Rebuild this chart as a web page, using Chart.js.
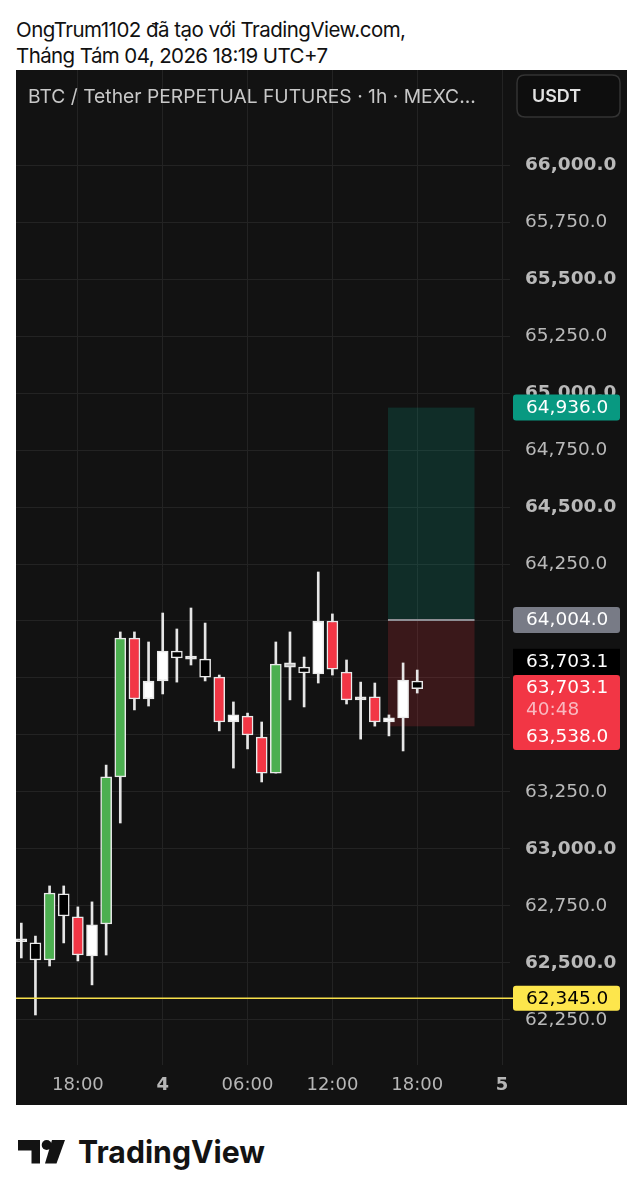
<!DOCTYPE html>
<html>
<head>
<meta charset="utf-8">
<script src="https://cdn.jsdelivr.net/npm/chart.js@4.4.1/dist/chart.umd.min.js"></script>
<style>
html,body{margin:0;padding:0;background:#fff;width:643px;height:1200px;overflow:hidden;}
#wrap{position:absolute;left:16px;top:70px;width:611px;height:1035px;background:#121212;}
#c{display:block;}
#page{position:absolute;left:0;top:0;}
</style>
</head>
<body>
<svg id="page" width="643" height="1200" xmlns="http://www.w3.org/2000/svg">
  <text x="16" y="36.5" font-family="Inter, 'Noto Sans', sans-serif" font-size="20.5" fill="#111" textLength="390" lengthAdjust="spacing">OngTrum1102 đã tạo với TradingView.com,</text>
  <text x="16" y="62.5" font-family="Inter, 'Noto Sans', sans-serif" font-size="20.5" fill="#111" textLength="312" lengthAdjust="spacing">Tháng Tám 04, 2026 18:19 UTC+7</text>
  <g fill="#131313">
    <polygon points="18,1140 40,1140 40,1163.5 31.5,1163.5 31.5,1150.5 18,1150.5"/>
    <circle cx="46.7" cy="1145" r="5"/>
    <polygon points="52,1140 65,1140 56.5,1163.5 45,1163.5"/>
  </g>
  <text x="78" y="1163" font-family="Inter, sans-serif" font-weight="700" font-size="31.5" fill="#131313" textLength="187" lengthAdjust="spacingAndGlyphs">TradingView</text>
</svg>
<div id="wrap"><canvas id="c" width="611" height="1035"></canvas></div>
<script>
// ---- DATA ----
const hours = ['03 14:00','03 15:00','03 16:00','03 17:00','03 18:00','03 19:00','03 20:00','03 21:00','03 22:00','03 23:00',
               '04 00:00','04 01:00','04 02:00','04 03:00','04 04:00','04 05:00','04 06:00','04 07:00','04 08:00','04 09:00',
               '04 10:00','04 11:00','04 12:00','04 13:00','04 14:00','04 15:00','04 16:00','04 17:00','04 18:00'];
const opens  = [62593,62588,62513,62803,62702,62531,62671,63316,63925,63658,63737,63868,63833,63833,63754,63557,63583,63491,63333,63816,63798,63768,64000,63776,63654,63667,63557,63575,63737];
const highs  = [62675,62618,62838,62838,62746,62768,63368,63952,63952,63908,64035,63965,64057,63991,63763,63645,63596,63557,63908,63952,63842,64215,64031,63829,63732,63728,63588,63816,63785];
const lows   = [62522,62272,62487,62588,62509,62404,62535,63114,63610,63627,63680,63732,63807,63737,63518,63355,63439,63294,63333,63654,63623,63728,63763,63636,63482,63539,63496,63430,63684];
const closes = [62593,62513,62807,62706,62535,62667,63316,63925,63658,63737,63868,63838,63833,63754,63557,63588,63500,63333,63811,63798,63772,64000,63789,63654,63667,63557,63575,63741,63703.1];
const bodyStyle = ['w','k','g','k','r','w','g','g','r','w','w','k','w','k','r','w','r','r','g','s','k','w','r','r','w','r','w','w','k'];

const priceTicks = [62250,62500,62750,63000,63250,63500,63750,64000,64250,64500,64750,65000,65250,65500,65750,66000];
const timeTickPos = [4,10,16,22,28,34];
const timeTickLabels = ['18:00','4','06:00','12:00','18:00','5'];
const timeTickBold = [false,true,false,false,false,true];

const xRange = [-0.375, 34.56];
const yRange = [62052.6, 66416.7];

const alertPrice = 62345;
const rrTarget = 64936, rrEntry = 64004, rrStop = 63538;
const rrSpan = [25.93, 32.05];
const lastPrice = 63703.1;
const countdown = '40:48';
const headerText = 'BTC / Tether PERPETUAL FUTURES · 1h · MEXC...';
const currencyText = 'USDT';

// ---- STYLE ----
const bodyColors = {g:'#4caf50', r:'#f23645', w:'#ffffff', k:'#000000', s:'#c4c4c4'};
const fmt = v => v.toLocaleString('en-US',{minimumFractionDigits:1, maximumFractionDigits:1});
const AX_FONT = 'DejaVu Sans';

const xIdx = hours.map((h,i)=>i);

function fitSize(ctx, text, weight, family, targetW, base){
  ctx.font = `${weight} ${base}px ${family}`;
  return base * targetW / ctx.measureText(text).width;
}
function rr(ctx,x,y,w,h,r){
  ctx.beginPath();
  ctx.moveTo(x+r,y);ctx.lineTo(x+w-r,y);ctx.quadraticCurveTo(x+w,y,x+w,y+r);
  ctx.lineTo(x+w,y+h-r);ctx.quadraticCurveTo(x+w,y+h,x+w-r,y+h);
  ctx.lineTo(x+r,y+h);ctx.quadraticCurveTo(x,y+h,x,y+h-r);
  ctx.lineTo(x,y+r);ctx.quadraticCurveTo(x,y,x+r,y);ctx.closePath();
}
function noPad(s){ s.paddingTop = 0; s.paddingBottom = 0; s.paddingLeft = 0; s.paddingRight = 0; }

const overlay = {
  id:'overlay',
  beforeDatasetsDraw(chart){
    const {ctx, scales:{x,y}} = chart;
    const x0 = x.getPixelForValue(rrSpan[0]), x1 = x.getPixelForValue(rrSpan[1]);
    const yT = y.getPixelForValue(rrTarget), yE = y.getPixelForValue(rrEntry), yS = y.getPixelForValue(rrStop);
    ctx.save();
    ctx.fillStyle = 'rgba(8,153,129,0.2)';
    ctx.fillRect(x0, yT, x1-x0, yE-yT);
    ctx.fillStyle = 'rgba(242,54,69,0.18)';
    ctx.fillRect(x0, yE, x1-x0, yS-yE);
    ctx.strokeStyle = '#8e8e94'; ctx.lineWidth = 2;
    ctx.beginPath(); ctx.moveTo(x0, yE); ctx.lineTo(x1, yE); ctx.stroke();
    ctx.restore();
  },
  afterDatasetsDraw(chart){
    const {ctx, chartArea, scales:{y}} = chart;
    const ya = y.getPixelForValue(alertPrice);
    ctx.save();
    ctx.strokeStyle = '#f7e04b'; ctx.lineWidth = 1.5;
    ctx.beginPath(); ctx.moveTo(chartArea.left, ya); ctx.lineTo(chartArea.right+4, ya); ctx.stroke();
    ctx.restore();
  },
  afterDraw(chart){
    const {ctx, chartArea, scales:{y}} = chart;
    ctx.save();
    // header
    const hs = fitSize(ctx, headerText, 400, 'Inter', 448, 18);
    ctx.font = `400 ${hs}px Inter`;
    ctx.fillStyle = '#c8c8c8'; ctx.textBaseline = 'middle'; ctx.textAlign = 'left';
    ctx.fillText(headerText, 12, 27);
    // USDT box
    rr(ctx, 501, 5, 103, 42, 8);
    ctx.fillStyle = '#0e0e0e'; ctx.fill();
    ctx.strokeStyle = '#333'; ctx.lineWidth = 1.5; ctx.stroke();
    const us = fitSize(ctx, currencyText, 600, 'Inter', 49, 18);
    ctx.font = `600 ${us}px Inter`; ctx.fillStyle = '#e2e2e2';
    ctx.fillText(currencyText, 516, 27);
    // price tags
    const tx = chartArea.right + 3, tw = 107, textX = chartArea.right + 16;
    ctx.font = `18.5px ${AX_FONT}`;
    const tag = (yc, h, bg, fg, text) => {
      rr(ctx, tx, yc - h/2, tw, h, 3); ctx.fillStyle = bg; ctx.fill();
      if (text){ ctx.fillStyle = fg; ctx.fillText(text, textX, yc+0.5); }
    };
    tag(y.getPixelForValue(rrTarget), 26, '#089981', '#ffffff', fmt(rrTarget));
    tag(y.getPixelForValue(rrEntry), 26, '#787b86', '#ffffff', fmt(rrEntry));
    const yS = y.getPixelForValue(rrStop);
    // black last price tag
    ctx.fillStyle = '#000'; ctx.fillRect(tx, yS - 77.5, tw, 26.5);
    ctx.fillStyle = '#ffffff'; ctx.fillText(fmt(lastPrice), textX, yS - 64);
    // red stacked tag: countdown + stop
    rr(ctx, tx, yS - 51.3, tw, 75, 3); ctx.fillStyle = '#f23645'; ctx.fill();
    ctx.fillStyle = '#ffffff'; ctx.fillText(fmt(lastPrice), textX, yS - 38);
    ctx.fillStyle = '#f9b9c0'; ctx.fillText(countdown, textX, yS - 16);
    ctx.fillStyle = '#ffffff'; ctx.fillText(fmt(rrStop), textX, yS + 11);
    // alert tag
    tag(y.getPixelForValue(alertPrice), 25, '#fde64c', '#000000', fmt(alertPrice));
    ctx.restore();
  }
};

new Chart(document.getElementById('c'), {
  type: 'bar',
  data: {
    datasets: [
      {
        label: 'body',
        data: xIdx.map(i => ({x: i, y: [opens[i], closes[i]]})),
        backgroundColor: bodyStyle.map(s => bodyColors[s]),
        borderColor: '#e9e9e9',
        borderWidth: 1.5,
        borderSkipped: false,
        barThickness: 11,
        minBarLength: 3,
        grouped: false
      },
      {
        label: 'wick',
        data: xIdx.map(i => ({x: i, y: [lows[i], highs[i]]})),
        backgroundColor: '#e6e6e6',
        borderWidth: 0,
        barThickness: 2,
        grouped: false
      }
    ]
  },
  options: {
    responsive: false,
    animation: false,
    devicePixelRatio: 1,
    layout: {padding: 0, autoPadding: false},
    plugins: {legend: {display: false}, tooltip: {enabled: false}},
    scales: {
      x: {
        type: 'linear', min: xRange[0], max: xRange[1], offset: false,
        grid: {color: '#232323', lineWidth: 1, drawTicks: false, offset: false},
        border: {display: false},
        afterBuildTicks: s => { s.ticks = timeTickPos.map(v => ({value: v})); },
        afterFit: s => { s.height = 40; noPad(s); },
        ticks: {
          autoSkip: false, maxRotation: 0, padding: 10, color: '#b6b6b6',
          font: ctx => ({family: AX_FONT, size: 18, weight: (ctx.index !== undefined && timeTickBold[ctx.index]) ? 'bold' : 'normal'}),
          callback: (v, i) => timeTickLabels[i]
        }
      },
      y: {
        type: 'linear', position: 'right', min: yRange[0], max: yRange[1],
        grid: {color: '#232323', lineWidth: 1, drawTicks: false},
        border: {display: false},
        afterBuildTicks: s => { s.ticks = priceTicks.map(v => ({value: v})); },
        afterFit: s => { s.width = 117; noPad(s); },
        ticks: {
          autoSkip: false, padding: 15, color: '#b9b9b9',
          font: ctx => ({family: AX_FONT, size: 18.5, weight: (ctx.tick && ctx.tick.value % 500 === 0) ? 'bold' : 'normal'}),
          callback: v => fmt(v)
        }
      }
    }
  },
  plugins: [overlay]
});
</script>
</body>
</html>
